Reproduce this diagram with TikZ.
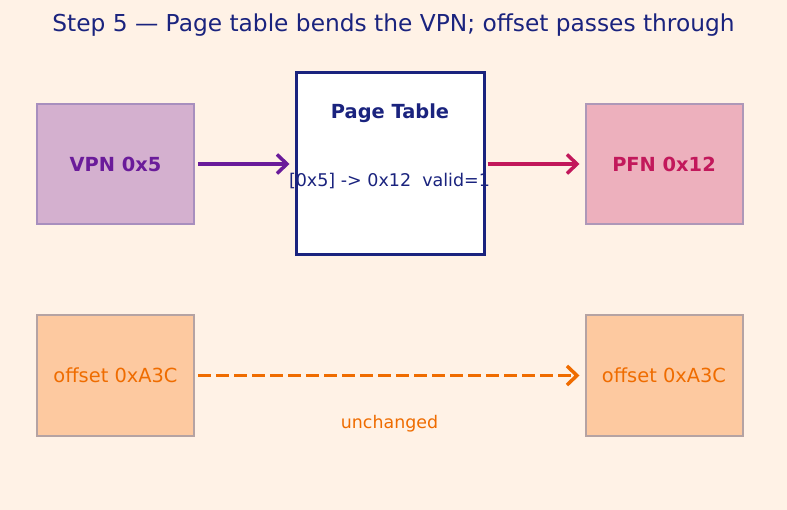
\documentclass[tikz,border=0pt]{standalone}
\usepackage{fontspec}
\setmainfont{DejaVu Sans}
\usetikzlibrary{arrows.meta}
\definecolor{bg}{HTML}{FFF2E6}
\definecolor{navy}{HTML}{1A237E}
\definecolor{vpnfill}{HTML}{D4B0CF}
\definecolor{vpnborder}{HTML}{A88FBE}
\definecolor{vpntext}{HTML}{6A1B9A}
\definecolor{pfnfill}{HTML}{EDB0BD}
\definecolor{pfnborder}{HTML}{AE98B8}
\definecolor{pfntext}{HTML}{C2185B}
\definecolor{offfill}{HTML}{FDC9A0}
\definecolor{offborder}{HTML}{B5A3A3}
\definecolor{offtext}{HTML}{EF6C00}
\tikzset{
  box/.style={draw, line width=2pt, minimum width=157pt, minimum height=120pt, inner sep=0pt, font=\fontsize{19.4}{22}\selectfont},
  vpnbox/.style={box, fill=vpnfill, draw=vpnborder, text=vpntext, font=\fontsize{19.4}{22}\selectfont\bfseries},
  pfnbox/.style={box, fill=pfnfill, draw=pfnborder, text=pfntext, font=\fontsize{19.4}{22}\selectfont\bfseries},
  offbox/.style={box, fill=offfill, draw=offborder, text=offtext},
  arr/.style={line width=3.5pt, -{Straight Barb[length=10pt,width=19pt,line width=3.5pt]}},
}
\begin{document}
\begin{tikzpicture}[x=1pt,y=-1pt]
\useasboundingbox[fill=bg] (0,0) rectangle (787,510);
\node[text=navy, font=\fontsize{23.3}{27}\selectfont] (title) at (393.5,25) {Step 5 — Page table bends the VPN; offset passes through};
\node[vpnbox] (vpn) at (115.5,164) {VPN 0x5};
\node[pfnbox] (pfn) at (664,164) {PFN 0x12};
\node[draw=navy, fill=white, line width=3pt, minimum width=188pt, minimum height=182pt, inner sep=0pt] (pt) at (390,164) {};
\node[text=navy, font=\fontsize{19.4}{22}\selectfont\bfseries] (pttitle) at (390,113.5) {Page Table};
\node[text=navy, font=\fontsize{17.5}{20}\selectfont] (ptentry) at (389.5,181.5) {[0x5] -> 0x12\ \ valid=1};
\node[offbox] (offl) at (115.5,375.5) {offset 0xA3C};
\node[offbox] (offr) at (664,375.5) {offset 0xA3C};
\node[text=offtext, font=\fontsize{17.4}{20}\selectfont] (unch) at (389.5,423.5) {unchanged};
\draw[arr, vpntext] ([xshift=3pt]vpn.east) -- ([xshift=-5pt]pt.west |- vpn.east);
\draw[arr, pfntext] ([xshift=2pt]pt.east |- pfn.west) -- ([xshift=-5pt]pfn.west);
\draw[arr, offtext, dash pattern=on 13pt off 5pt] ([xshift=3pt]offl.east) -- ([xshift=-5pt]offr.west);
\end{tikzpicture}
\end{document}
